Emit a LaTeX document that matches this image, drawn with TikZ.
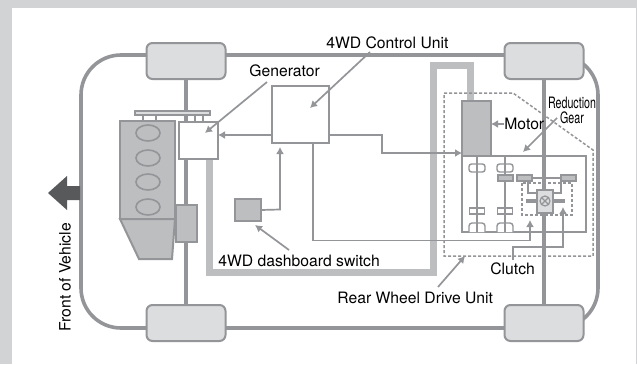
\documentclass[tikz,border=0pt]{standalone}
\usepackage{fontspec}
\setmainfont{TeX Gyre Heros}
\definecolor{linegray}{HTML}{939598}
\definecolor{midgray}{HTML}{BCBEC0}
\definecolor{palegray}{HTML}{DCDDDE}
\definecolor{framegray}{HTML}{D1D3D4}
\definecolor{darkgray}{HTML}{58595B}
\usetikzlibrary{arrows.meta}
\tikzset{
  every picture/.style={line width=0.75pt},
  conn/.style={draw=linegray,line width=1.7pt},
  pointer/.style={conn,-{Latex[length=7pt,width=8pt]}},
  part/.style={draw=linegray,line width=2pt,fill=white,inner sep=0pt,outer sep=0pt},
  gearbar/.style={part,fill=midgray,minimum width=15pt,minimum height=6pt},
  wheel/.style={part,fill=palegray,rounded corners=6pt,minimum width=79pt,minimum height=36pt},
  lbl/.style={text=black,font=\fontsize{15.7}{18}\selectfont,inner sep=0pt},
}

\begin{document}
\begin{tikzpicture}[x=1pt,y=-1pt]
  \useasboundingbox (0,0) rectangle (637,364);
  \fill[framegray] (0,0) rectangle (637,364);
  \fill[white] (12,8) rectangle (636,364);

  % --- body and axles ---
  \draw[linegray,line width=3.6pt,rounded corners=40pt] (81,55) rectangle (598,328);
  \draw[linegray,line width=4pt] (186,60) -- (186,310);
  \draw[linegray,line width=4pt] (544,60) -- (544,310);
  \node[wheel] (wheelFL) at (186,61) {};
  \node[wheel] (wheelFR) at (186,323) {};
  \node[wheel] (wheelRL) at (544,61) {};
  \node[wheel] (wheelRR) at (544,323) {};

  % --- arrow, front of vehicle ---
  \fill[darkgray] (80,186) -- (67,186) -- (67,176) -- (48,193) -- (67,210) -- (67,200) -- (80,200) -- cycle;
  \node[lbl,rotate=90,anchor=west] (front) at (65,332) {Front of Vehicle};

  % --- engine ---
  \draw[part,fill=midgray] (120,219) -- (139,259) -- (172,259) -- (175,219) -- cycle;
  \node[part,fill=midgray,anchor=north west,minimum width=55pt,minimum height=98pt] (engine) at (120,121) {};
  \foreach \y in {133,158,182,207}
    \draw[linegray,line width=1.6pt] (148,\y) ellipse (12pt and 8pt);
  \node[part,fill=midgray,anchor=north west,minimum width=21pt,minimum height=37pt] (gearcase) at (176,205) {};
  \node[part,fill=palegray,anchor=north west,minimum width=75pt,minimum height=4pt,line width=1.4pt] (belt) at (135,111) {};
  \foreach \x in {143,156,195,203}
    \draw[linegray,line width=1.4pt] (\x,115) -- (\x,121);

  % --- power line ---
  \draw[midgray,line width=7pt] (209,159) -- (209,272.5) -- (433,272.5) -- (433,65.5) -- (470,65.5) -- (470,101);

  % --- boxes ---
  \node[part,anchor=north west,minimum width=39pt,minimum height=37pt] (generator) at (179,122) {};
  \node[part,anchor=north west,minimum width=57pt,minimum height=57pt] (control) at (272,86) {};
  \node[part,fill=midgray,anchor=north west,minimum width=26pt,minimum height=22pt] (switch) at (235,199) {};
  \node[part,anchor=north west,minimum width=124pt,minimum height=76pt] (reduction) at (462,156) {};
  \node[part,fill=midgray,anchor=north west,minimum width=29pt,minimum height=55pt] (motor) at (462,101) {};

  % --- rear drive unit, dotted ---
  \draw[linegray,line width=1.5pt,densely dashed] (444,93) -- (513,93) -- (593,150) -- (593,256) -- (444,256) -- cycle;
  \draw[linegray,line width=1.5pt,densely dashed] (522,183) rectangle (572,215);

  % --- gear train ---
  \draw[linegray,line width=4pt] (544,79) -- (544,305);
  \foreach \x in {477,505}
    \draw[conn] (\x,157) -- (\x,232);
  \foreach \x in {477,505} {
    \draw[part,line width=1.4pt,rounded corners=2.5pt] (\x-8,164) rectangle (\x+8,172);
    \draw[conn,line width=1.4pt] (\x,164) -- (\x,172);
    \draw[part,line width=1.4pt,rounded corners=3pt] (\x-8,232) -- (\x-8,223) -- (\x+8,223) -- (\x+8,232);
    \draw[conn,line width=1.4pt] (\x,223) -- (\x,232);
    \node[gearbar,fill=white,line width=1.4pt] at (\x,211) {};
    \draw[conn,line width=1.4pt] (\x,208) -- (\x,214);
  }
  \node[gearbar] (gearA) at (505,178) {};
  \node[gearbar] (gearB) at (524.5,178) {};
  \node[gearbar] (gearC) at (568,178) {};
  \draw[conn] (gearB) -- (gearC);
  \draw[conn] (528,181) -- (528,193) -- (537,193);
  \draw[conn] (561,181) -- (561,193) -- (553,193);
  \draw[linegray,line width=3.4pt] (526,201) -- (565,201);
  \node[part,fill=palegray,anchor=north west,minimum width=16pt,minimum height=23pt] (diff) at (537,190) {};
  \draw[linegray,line width=1.2pt] (545,201) circle (5pt);
  \draw[linegray,line width=1.2pt] (541.5,197.5) -- (548.5,204.5) (541.5,204.5) -- (548.5,197.5);

  % --- labels ---
  \node[lbl,anchor=west] (lblControl) at (326,43) {4WD Control Unit};
  \node[lbl,anchor=west] (lblGen) at (249,71) {Generator};
  \node[lbl,anchor=west] (lblMotor) at (504,124) {Motor};
  \node[lbl,anchor=west] (lblSwitch) at (218,261) {4WD dashboard switch};
  \node[lbl,anchor=west] (lblRear) at (337,298) {Rear Wheel Drive Unit};
  \node[lbl,anchor=west] (lblClutch) at (490,269) {Clutch};
  \node[lbl,xscale=0.68,anchor=center] (lblRed) at (572,103) {Reduction};
  \node[lbl,xscale=0.68,anchor=center] (lblGear) at (572,118) {Gear};

  % --- connectors ---
  \coordinate (genTip) at (205,133);
  \coordinate (ctrlTip) at (310,108);
  \coordinate (genStart) at (267,82);
  \coordinate (ctrlStart) at (370,52);
  \coordinate (gearStart) at (557,118);
  \coordinate (gearTip) at (523,152);
  \coordinate (switchStart) at (289,250);
  \coordinate (switchTip) at (255,225);
  \coordinate (rearStart) at (438,287);
  \coordinate (rearTip) at (465,256);
  \coordinate (ctrlDown) at (313,143);
  \coordinate (clutchStart) at (513,260);
  \draw[pointer] (genStart) -- (genTip);
  \draw[pointer] (ctrlStart) -- (ctrlTip);
  \draw[pointer] (gearStart) -- (gearTip);
  \draw[pointer] (switchStart) -- (switchTip);
  \draw[pointer] (rearStart) -- (rearTip);
  \draw[pointer] (control.west |- 0,135) -- (generator.east |- 0,135);
  \draw[pointer] (control.east |- 0,135) -- (382,135) -- (382,153) -- (motor.west |- 0,153);
  \draw[pointer] (switch.east) -- (280,209.5) -- (280,147);
  \draw[pointer] (ctrlDown) -- (313,240.5) -- (530,240.5) -- (530,220);
  \draw[pointer] (clutchStart) -- (513,247) -- (563,247) -- (563,207);
  \draw[pointer] (lblMotor.west) -- (motor.east |- lblMotor.west);
\end{tikzpicture}
\end{document}
